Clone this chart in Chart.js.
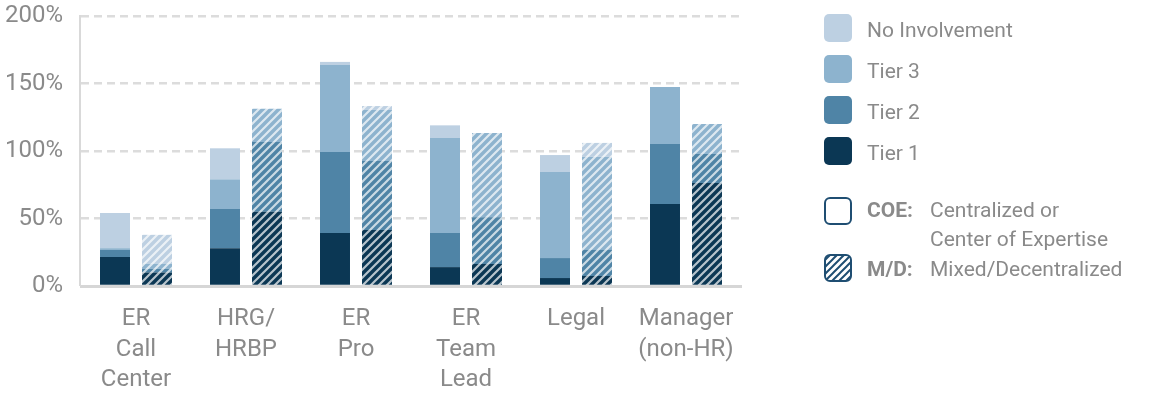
<!DOCTYPE html>
<html>
<head>
<meta charset="utf-8">
<script src="https://cdn.jsdelivr.net/npm/chart.js@4"></script>
<style>
  html, body { margin: 0; padding: 0; background: #fff; }
  #wrap { width: 1154px; height: 394px; }
</style>
</head>
<body>
<div id="wrap"><canvas id="chartId" width="1154" height="394"></canvas></div>
<script>
// roles on the x axis (multi-line labels)
const roles = [
    ["ER", "Call", "Center"],
    ["HRG/", "HRBP"],
    ["ER", "Pro"],
    ["ER", "Team", "Lead"],
    ["Legal"],
    ["Manager", "(non-HR)"]
];

// share of respondents per tier, centralized / COE
const coeTier1 = [21.5, 28, 39.3, 14, 5.9, 60.7];
const coeTier2 = [5.2, 29, 60, 25.3, 14.8, 44.5];
const coeTier3 = [1.3, 22, 64.4, 70.3, 63.7, 42.2];
const coeNone = [26, 23, 2.3, 9.4, 12.6, 0];

// mixed / decentralized
const mdTier1 = [10, 55, 41.5, 16.3, 7.4, 76.3];
const mdTier2 = [2.7, 51.7, 51.1, 34.7, 19.3, 21.5];
const mdTier3 = [3.7, 24.6, 37.8, 62.3, 68.9, 22.2];
const mdNone = [21.5, 0, 2.9, 0, 10.4, 0];

const yTicks = [0, 50, 100, 150, 200];

const colors = {
    tier1: '#0b3754',
    tier2: '#4f84a6',
    tier3: '#8db3ce',
    none: '#bdd0e2'
};
const textGrey = '#8a8a8a';
const fontName = 'Roboto';

// diagonal stripes over the base colour
function hatch(base, stripe, period, lw) {
    const c = document.createElement('canvas');
    c.width = period;
    c.height = period;
    const g = c.getContext('2d');
    if (base) {
        g.fillStyle = base;
        g.fillRect(0, 0, period, period);
    }
    g.strokeStyle = stripe;
    g.lineWidth = lw;
    g.beginPath();
    g.moveTo(-period / 2, period / 2); g.lineTo(period / 2, -period / 2);
    g.moveTo(0, period); g.lineTo(period, 0);
    g.moveTo(period / 2, period * 1.5); g.lineTo(period * 1.5, period / 2);
    g.stroke();
    return g.createPattern(c, 'repeat');
}

const stripeWhite = 'rgba(255,255,255,0.7)';

function ds(label, data, color, stack) {
    return {
        label: label,
        data: data,
        stack: stack,
        backgroundColor: stack === 'md' ? hatch(color, stripeWhite, 8, 2.2) : color,
        borderWidth: 0,
        categoryPercentage: 0.7636,
        barPercentage: 0.714
    };
}

// solid vertical axis line (grid lines are dashed)
const yAxisLine = {
    id: 'yAxisLine',
    beforeDatasetsDraw(chart) {
        const { ctx, chartArea } = chart;
        ctx.save();
        ctx.strokeStyle = '#d9d9d9';
        ctx.lineWidth = 2;
        ctx.beginPath();
        ctx.moveTo(chartArea.left - 1, chartArea.top - 1);
        ctx.lineTo(chartArea.left - 1, chartArea.bottom);
        ctx.stroke();
        ctx.restore();
    }
};

const sideLegend = {
    id: 'sideLegend',
    afterDraw(chart) {
        const ctx = chart.ctx;
        ctx.save();
        const x = 824, size = 28;
        const items = [
            ['No Involvement', colors.none, 14],
            ['Tier 3', colors.tier3, 55],
            ['Tier 2', colors.tier2, 96],
            ['Tier 1', colors.tier1, 137]
        ];
        ctx.textBaseline = 'middle';
        ctx.font = '21px ' + fontName;
        items.forEach(it => {
            ctx.fillStyle = it[1];
            ctx.beginPath();
            ctx.roundRect(x, it[2], size, size, 5);
            ctx.fill();
            ctx.fillStyle = textGrey;
            ctx.fillText(it[0], 867, it[2] + size / 2 + 4);
        });

        // COE swatch
        ctx.strokeStyle = '#1f4e72';
        ctx.lineWidth = 2;
        ctx.fillStyle = '#fff';
        ctx.beginPath();
        ctx.roundRect(x + 1, 198, size - 2, size - 2, 5);
        ctx.fill();
        ctx.stroke();

        // M/D swatch
        ctx.fillStyle = hatch('#fff', '#1f4e72', 7, 2);
        ctx.beginPath();
        ctx.roundRect(x + 1, 255, size - 2, size - 2, 5);
        ctx.fill();
        ctx.stroke();

        ctx.fillStyle = textGrey;
        ctx.font = 'bold 21px ' + fontName;
        ctx.fillText('COE:', 867, 212);
        ctx.fillText('M/D:', 867, 271);
        ctx.font = '21px ' + fontName;
        ctx.fillText('Centralized or', 930, 212);
        ctx.fillText('Center of Expertise', 930, 241);
        ctx.fillText('Mixed/Decentralized', 930, 271);
        ctx.restore();
    }
};

const chrt = document.getElementById('chartId').getContext('2d');
const chartId = new Chart(chrt, {
    type: 'bar',
    data: {
        labels: roles,
        datasets: [
            ds('Tier 1', coeTier1, colors.tier1, 'coe'),
            ds('Tier 2', coeTier2, colors.tier2, 'coe'),
            ds('Tier 3', coeTier3, colors.tier3, 'coe'),
            ds('No Involvement', coeNone, colors.none, 'coe'),
            ds('Tier 1', mdTier1, colors.tier1, 'md'),
            ds('Tier 2', mdTier2, colors.tier2, 'md'),
            ds('Tier 3', mdTier3, colors.tier3, 'md'),
            ds('No Involvement', mdNone, colors.none, 'md')
        ]
    },
    options: {
        responsive: false,
        animation: false,
        layout: { padding: { left: 0, right: 413, top: 16, bottom: 0 } },
        plugins: {
            legend: { display: false },
            tooltip: { enabled: false }
        },
        scales: {
            x: {
                stacked: true,
                grid: { display: false, drawTicks: false },
                border: { color: '#d6d6d6', width: 3 },
                ticks: {
                    color: textGrey,
                    padding: 18,
                    maxRotation: 0,
                    autoSkip: false,
                    font: { family: fontName, size: 24, lineHeight: 1.27 }
                },
                afterFit(scale) {
                    scale.height = 108;
                    scale.paddingLeft = 0;
                    scale.paddingRight = 0;
                }
            },
            y: {
                stacked: true,
                min: 0,
                max: 200,
                afterBuildTicks(scale) {
                    scale.ticks = yTicks.map(v => ({ value: v }));
                },
                grid: {
                    color: '#dcdcdc',
                    lineWidth: 2.5,
                    drawTicks: false
                },
                border: { display: false, dash: [8, 5] },
                ticks: {
                    color: textGrey,
                    padding: 18,
                    font: { family: fontName, size: 24 },
                    callback: v => v + '%'
                },
                afterFit(scale) {
                    scale.width = 81;
                    scale.paddingTop = 0;
                    scale.paddingBottom = 0;
                }
            }
        }
    },
    plugins: [yAxisLine, sideLegend]
});
</script>
</body>
</html>
